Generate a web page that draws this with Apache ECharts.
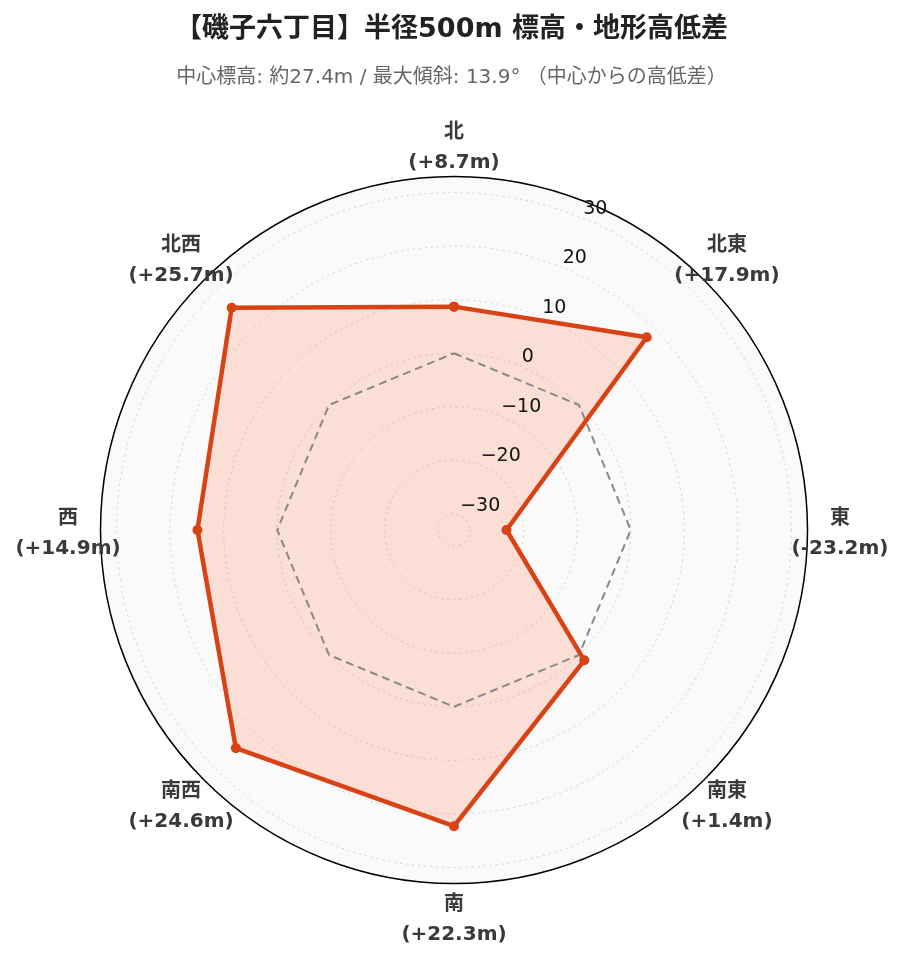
<!DOCTYPE html>
<html>
<head>
<meta charset="utf-8">
<script src="https://cdn.jsdelivr.net/npm/echarts@6/dist/echarts.min.js"></script>
<style>
html,body{margin:0;padding:0;background:#fff;}
#chart{width:903px;height:962px;}
</style>
</head>
<body>
<div id="chart"></div>
<script>
// ---- data ----
var titleText = '【磯子六丁目】半径500m 標高・地形高低差';
var subtitleText = '中心標高: 約27.4m / 最大傾斜: 13.9° （中心からの高低差）';
var directions = ['北', '北東', '東', '南東', '南', '南西', '西', '北西'];
var elevationDiff = [8.7, 17.9, -23.2, 1.4, 22.3, 24.6, 14.9, 25.7];
var referenceLevel = [0, 0, 0, 0, 0, 0, 0, 0];
var radialMin = -30, radialMax = 30, radialStep = 10;
var axisFullMin = -33, axisFullMax = 33;

// ---- layout ----
var CX = 454, CY = 530, R_OUT = 353.5;
var pxPerUnit = R_OUT / (axisFullMax - axisFullMin);
var rInner = (radialMin - axisFullMin) * pxPerUnit;
var rOuterGrid = (radialMax - axisFullMin) * pxPerUnit;
var R_LABEL = 386;

var FONT = "'DejaVu Sans', 'Noto Sans CJK JP', sans-serif";
var LINE_COLOR = '#D84315';
var GRID_LINE = { show: true, lineStyle: { color: '#d0d0d0', type: [2, 4], width: 1 } };

// category order for the data polar: start at NE so that the radial axis sits between N and NE
var dataAngleCats = directions.slice(1).concat(directions.slice(0, 1));

function closed(arr) { return arr.concat([arr[0]]); }
var seriesData = closed(directions.map(function (d, i) { return [elevationDiff[i], d]; }));
var refData = closed(directions.map(function (d, i) { return [referenceLevel[i], d]; }));
var labelData = directions.map(function (d, i) {
  var v = elevationDiff[i];
  return { name: d, value: [1, d], diff: (v >= 0 ? '+' : '') + v.toFixed(1) };
});

var hiddenAxis = { axisLine: { show: false }, axisTick: { show: false },
  axisLabel: { show: false }, splitLine: { show: false } };
function ext(a, b) { var o = {}; for (var k in a) o[k] = a[k]; for (var k2 in b) o[k2] = b[k2]; return o; }

var chart = echarts.init(document.getElementById('chart'), null, { renderer: 'canvas' });
chart.setOption({
  backgroundColor: '#ffffff',
  animation: false,
  title: [
    { text: titleText, left: 'center', top: 11,
      textStyle: { fontFamily: FONT, fontSize: 27, fontWeight: 'bold', color: '#222' } },
    { text: subtitleText, left: 'center', top: 63,
      textStyle: { fontFamily: FONT, fontSize: 20, fontWeight: 'normal', color: '#666' } }
  ],
  polar: [
    { center: [CX, CY], radius: [rInner, rOuterGrid] },   // grid rings
    { center: [CX, CY], radius: R_OUT },                  // frame: background, spokes, outer circle
    { center: [CX, CY], radius: R_LABEL },                // direction labels
    { center: [CX, CY], radius: [0, R_OUT] },             // data
    { center: [CX, CY], radius: [rInner, rOuterGrid] }    // radial tick labels (on top)
  ],
  angleAxis: [
    ext(hiddenAxis, { polarIndex: 0, type: 'category', data: dataAngleCats, startAngle: 67.5,
      clockwise: true, boundaryGap: true }),
    { polarIndex: 1, type: 'value', min: 0, max: 360, interval: 45, startAngle: 90, clockwise: true,
      z: 0,
      axisLine: { show: true, lineStyle: { color: '#000', width: 1.5 } },
      axisTick: { show: false }, axisLabel: { show: false },
      splitLine: GRID_LINE,
      splitArea: { show: true, areaStyle: { color: ['#fafafa'] } } },
    ext(hiddenAxis, { polarIndex: 2, type: 'category', data: directions, startAngle: 90,
      clockwise: true, boundaryGap: false }),
    ext(hiddenAxis, { polarIndex: 3, type: 'category', data: dataAngleCats, startAngle: 67.5,
      clockwise: true, boundaryGap: true }),
    ext(hiddenAxis, { polarIndex: 4, type: 'category', data: dataAngleCats, startAngle: 67.5,
      clockwise: true, boundaryGap: true })
  ],
  radiusAxis: [
    { polarIndex: 0, type: 'value', min: radialMin, max: radialMax, interval: radialStep, z: 1,
      axisLine: { show: false }, axisTick: { show: false }, axisLabel: { show: false },
      splitLine: GRID_LINE },
    ext(hiddenAxis, { polarIndex: 1, type: 'value', min: 0, max: 1 }),
    ext(hiddenAxis, { polarIndex: 2, type: 'value', min: 0, max: 1 }),
    ext(hiddenAxis, { polarIndex: 3, type: 'value', min: axisFullMin, max: axisFullMax }),
    { polarIndex: 4, type: 'value', min: radialMin, max: radialMax, interval: radialStep, z: 10,
      axisLine: { show: false }, axisTick: { show: false }, splitLine: { show: false },
      axisLabel: { show: true, margin: 0, align: 'left', verticalAlign: 'bottom',
        fontFamily: FONT, fontSize: 19, color: '#111',
        formatter: function (v) { return String(v).replace('-', '\u2212'); } } }
  ],
  series: [
    { type: 'line', coordinateSystem: 'polar', polarIndex: 3, data: seriesData,
      symbol: 'none', z: 3, silent: true,
      lineStyle: { width: 0, color: 'rgba(0,0,0,0)' },
      areaStyle: { color: 'rgba(255,112,67,0.2)', opacity: 1, origin: 'start' } },
    { type: 'line', coordinateSystem: 'polar', polarIndex: 3, data: refData,
      symbol: 'none', z: 4,
      lineStyle: { color: '#888888', width: 2, type: [8, 5] } },
    { type: 'line', coordinateSystem: 'polar', polarIndex: 3, data: seriesData,
      symbol: 'circle', symbolSize: 10, z: 5,
      itemStyle: { color: LINE_COLOR },
      lineStyle: { color: LINE_COLOR, width: 4.5 } },
    { type: 'scatter', coordinateSystem: 'polar', polarIndex: 2, data: labelData,
      symbolSize: 0, clip: false, silent: true, z: 6,
      itemStyle: { opacity: 1 },
      label: { show: true, position: 'inside', align: 'center', verticalAlign: 'middle',
        offset: [0, 4], opacity: 1,
        fontFamily: FONT, fontSize: 20, fontWeight: 'bold', color: '#3a3a3a', lineHeight: 30,
        formatter: function (p) { return p.name + '\n(' + p.data.diff + 'm)'; } } }
  ]
});
</script>
</body>
</html>
